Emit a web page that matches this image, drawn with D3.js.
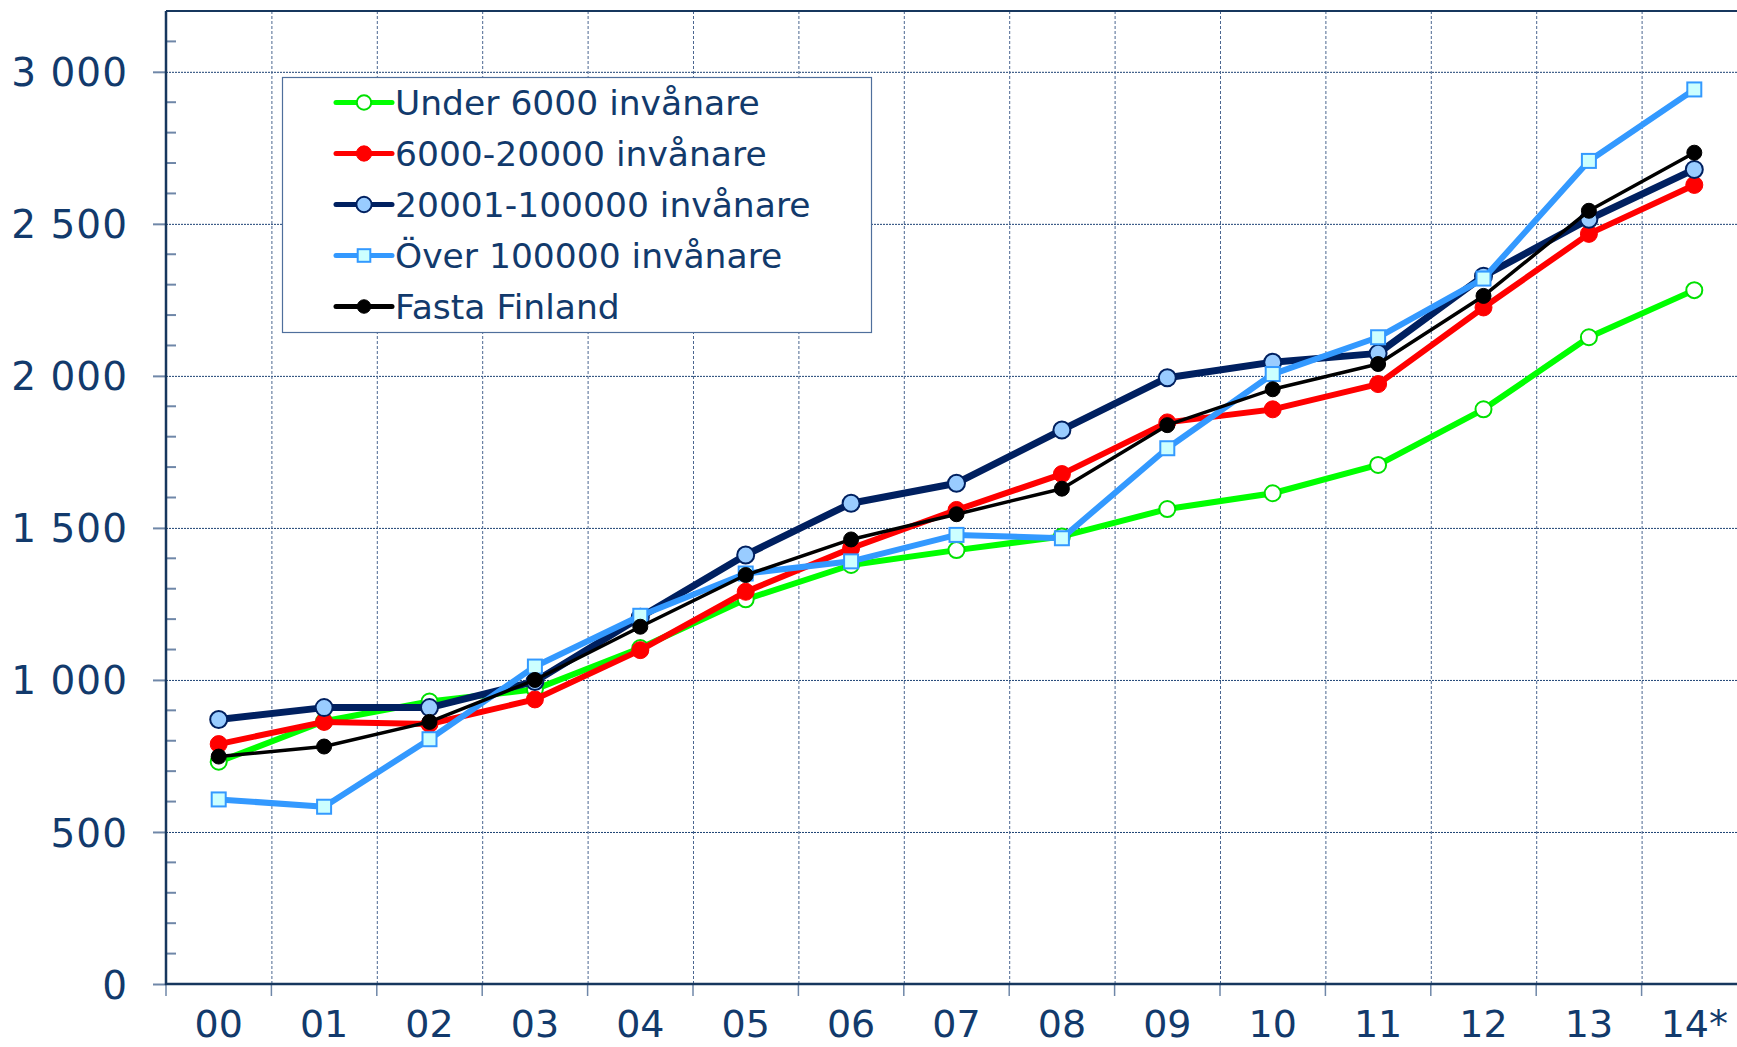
<!DOCTYPE html>
<html>
<head>
<meta charset="utf-8">
<script src="https://cdn.jsdelivr.net/npm/d3@7"></script>
<style>
  body { margin: 0; background: #fff; }
  svg { display: block; font-family: "DejaVu Sans", Verdana, sans-serif; }
  .axisText { fill: #123a6c; font-size: 38px; font-family: "DejaVu Sans", Verdana, sans-serif; }
  .yText { font-size: 39px; letter-spacing: 1px; }
  .legendText { fill: #123a6c; font-size: 34.5px; font-family: "DejaVu Sans", Verdana, sans-serif; }
</style>
</head>
<body>
<div id="chart"></div>
<script>
// data
var categories = ["00", "01", "02", "03", "04", "05", "06", "07", "08", "09", "10", "11", "12", "13", "14*"];
var under6000 = [731, 864, 929, 969, 1105, 1265, 1378, 1427, 1472, 1562, 1614, 1707, 1890, 2127, 2282];
var from6000to20000 = [789, 862, 855, 936, 1098, 1290, 1433, 1559, 1677, 1847, 1890, 1973, 2225, 2467, 2628];
var from20001to100000 = [870, 909, 909, 995, 1206, 1411, 1581, 1647, 1822, 1994, 2045, 2074, 2328, 2515, 2679];
var over100000 = [607, 583, 805, 1044, 1211, 1350, 1390, 1477, 1466, 1762, 2006, 2127, 2320, 2707, 2942];
var fastaFinland = [748, 781, 862, 1000, 1175, 1345, 1462, 1545, 1629, 1838, 1956, 2039, 2263, 2543, 2734];
var seriesNames = ["Under 6000 invånare", "6000-20000 invånare", "20001-100000 invånare", "Över 100000 invånare", "Fasta Finland"];
var yTicks = [0, 500, 1000, 1500, 2000, 2500, 3000];
var yMax = 3200;

// series styles
var series = [
  {name: seriesNames[0], values: under6000, line: "#00ff00", width: 6, shape: "circle", r: 8, fill: "#ffffff", stroke: "#00e000", sw: 2},
  {name: seriesNames[1], values: from6000to20000, line: "#ff0000", width: 6, shape: "circle", r: 8.5, fill: "#ff0000", stroke: "#ff0000", sw: 1},
  {name: seriesNames[2], values: from20001to100000, line: "#002060", width: 7, shape: "circle", r: 8.5, fill: "#99ccff", stroke: "#002060", sw: 2},
  {name: seriesNames[3], values: over100000, line: "#3399ff", width: 6, shape: "square", r: 7, fill: "#ccffff", stroke: "#3399ff", sw: 2},
  {name: seriesNames[4], values: fastaFinland, line: "#000000", width: 3.5, shape: "circle", r: 7.5, fill: "#000000", stroke: "#000000", sw: 1}
];

// area space
var width = 1737;
var height = 1047;
var margin = {top: 11, left: 166, bottom: 984};
var plotRight = margin.left + 105.4 * categories.length;
var axisColor = "#17375e";

var svg = d3.select("#chart")
  .append("svg")
  .attr("width", width)
  .attr("height", height);

var x = d3.scaleBand()
  .domain(categories)
  .range([margin.left, plotRight])
  .padding(0);

var y = d3.scaleLinear()
  .domain([0, yMax])
  .range([margin.bottom, margin.top]);

var fmt = d3.formatLocale({decimal: ",", thousands: " ", grouping: [3], currency: ["", ""]}).format(",");

// gridlines
svg.append("g")
  .selectAll("line")
  .data(yTicks.filter(function(d){ return d > 0; }))
  .enter()
  .append("line")
  .attr("x1", margin.left)
  .attr("x2", plotRight)
  .attr("y1", function(d){ return y(d) + 0.5; })
  .attr("y2", function(d){ return y(d) + 0.5; })
  .attr("stroke", "#1d4274")
  .attr("stroke-width", 1)
  .attr("stroke-dasharray", "2,1");

var boundaries = d3.range(categories.length + 1).map(function(i){
  return margin.left + i * x.step();
});

svg.append("g")
  .selectAll("line")
  .data(boundaries.slice(1))
  .enter()
  .append("line")
  .attr("x1", function(d){ return d + 0.5; })
  .attr("x2", function(d){ return d + 0.5; })
  .attr("y1", margin.top)
  .attr("y2", margin.bottom)
  .attr("stroke", "#4a6690")
  .attr("stroke-width", 1)
  .attr("stroke-dasharray", "3,2");

// minor ticks every 100
svg.append("g")
  .selectAll("line")
  .data(d3.range(100, yMax, 100).filter(function(d){ return d % 500 !== 0; }))
  .enter()
  .append("line")
  .attr("x1", margin.left)
  .attr("x2", margin.left + 10)
  .attr("y1", function(d){ return y(d); })
  .attr("y2", function(d){ return y(d); })
  .attr("stroke", "#6f87a8")
  .attr("stroke-width", 2);

// x boundary ticks
svg.append("g")
  .selectAll("line")
  .data(boundaries)
  .enter()
  .append("line")
  .attr("x1", function(d){ return d; })
  .attr("x2", function(d){ return d; })
  .attr("y1", margin.bottom)
  .attr("y2", margin.bottom + 12)
  .attr("stroke", "#6f87a8")
  .attr("stroke-width", 1.5);

// y axis
var yAxis = d3.axisLeft(y)
  .tickValues(yTicks)
  .tickSize(13)
  .tickPadding(25)
  .tickFormat(fmt);

var gy = svg.append("g")
  .attr("transform", "translate(" + margin.left + ",0)")
  .call(yAxis)
  .attr("font-family", null)
  .attr("font-size", null);
gy.select(".domain").remove();
gy.selectAll(".tick line").attr("stroke", "#6f87a8").attr("stroke-width", 2);
gy.selectAll(".tick text")
  .attr("class", "axisText yText")
  .attr("fill", null)
  .attr("dy", "0.36em");

// x axis
var xAxis = d3.axisBottom(x)
  .tickSize(0)
  .tickPadding(26);

var gx = svg.append("g")
  .attr("transform", "translate(0," + margin.bottom + ")")
  .call(xAxis)
  .attr("font-family", null)
  .attr("font-size", null);
gx.select(".domain").remove();
gx.selectAll(".tick text")
  .attr("class", "axisText")
  .attr("fill", null);

// frame
svg.append("line")
  .attr("x1", margin.left).attr("x2", width)
  .attr("y1", margin.top).attr("y2", margin.top)
  .attr("stroke", axisColor).attr("stroke-width", 2);
svg.append("line")
  .attr("x1", margin.left - 1).attr("x2", width)
  .attr("y1", margin.bottom).attr("y2", margin.bottom)
  .attr("stroke", axisColor).attr("stroke-width", 2.5);
svg.append("line")
  .attr("x1", margin.left).attr("x2", margin.left)
  .attr("y1", margin.top).attr("y2", margin.bottom + 1)
  .attr("stroke", axisColor).attr("stroke-width", 2.5);

// markers
function drawMarker(sel, s, cx, cy, scale) {
  if (s.shape === "square") {
    var h = s.r * scale;
    sel.append("rect")
      .attr("x", cx - h).attr("y", cy - h)
      .attr("width", 2 * h).attr("height", 2 * h)
      .attr("fill", s.fill).attr("stroke", s.stroke).attr("stroke-width", s.sw);
  } else {
    sel.append("circle")
      .attr("cx", cx).attr("cy", cy)
      .attr("r", s.r * scale)
      .attr("fill", s.fill).attr("stroke", s.stroke).attr("stroke-width", s.sw);
  }
}

var line = d3.line()
  .x(function(d, i){ return x(categories[i]) + x.bandwidth() / 2; })
  .y(function(d){ return y(d); });

series.forEach(function(s){
  var g = svg.append("g");
  g.append("path")
    .attr("d", line(s.values))
    .attr("fill", "none")
    .attr("stroke", s.line)
    .attr("stroke-width", s.width)
    .attr("stroke-linejoin", "round");
  s.values.forEach(function(v, i){
    drawMarker(g, s, x(categories[i]) + x.bandwidth() / 2, y(v), 1);
  });
});

// legend
var legend = svg.append("g");
legend.append("rect")
  .attr("x", 282.5).attr("y", 77.5)
  .attr("width", 589).attr("height", 255)
  .attr("fill", "#ffffff")
  .attr("stroke", "#4f6f9c")
  .attr("stroke-width", 1.2);

series.forEach(function(s, i){
  var cy = 102.5 + i * 51;
  var item = legend.append("g");
  item.append("line")
    .attr("x1", 336).attr("x2", 392)
    .attr("y1", cy).attr("y2", cy)
    .attr("stroke", s.line)
    .attr("stroke-width", 5)
    .attr("stroke-linecap", "round");
  drawMarker(item, s, 364, cy, 0.9);
  item.append("text")
    .attr("class", "legendText")
    .attr("x", 395)
    .attr("y", cy + 12.5)
    .text(s.name);
});
</script>
</body>
</html>
